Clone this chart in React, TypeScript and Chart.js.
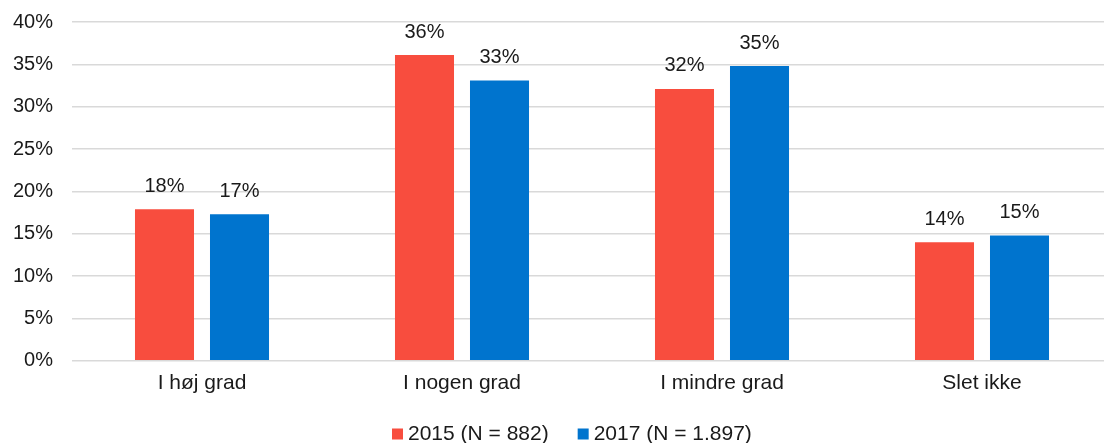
import React, { useEffect, useRef } from "react";
import { Chart, registerables } from "chart.js";

Chart.register(...registerables);

const categories = ["I høj grad", "I nogen grad", "I mindre grad", "Slet ikke"];
const series2015 = [17.9, 36.1, 32.1, 14.0];
const series2017 = [17.3, 33.1, 34.8, 14.8];
const labels2015 = ["18%", "36%", "32%", "14%"];
const labels2017 = ["17%", "33%", "35%", "15%"];
const seriesNames = ["2015 (N = 882)", "2017 (N = 1.897)"];
const yTicks = [0, 5, 10, 15, 20, 25, 30, 35, 40];

const RED = "#F84D3E";
const BLUE = "#0074CE";
const FONT = "'Liberation Sans', Arial, sans-serif";

const valueLabels = {
  id: "valueLabels",
  afterDatasetsDraw(chart: any) {
    const ctx = chart.ctx;
    ctx.save();
    ctx.font = `20px ${FONT}`;
    ctx.fillStyle = "#1a1a1a";
    ctx.textAlign = "center";
    ctx.textBaseline = "middle";
    const texts = [labels2015, labels2017];
    chart.data.datasets.forEach((ds: any, i: number) => {
      const meta = chart.getDatasetMeta(i);
      meta.data.forEach((bar: any, j: number) => {
        ctx.fillText(texts[i][j], bar.x, bar.y - 23);
      });
    });
    ctx.restore();
  },
};

const customLegend = {
  id: "customLegend",
  afterDraw(chart: any) {
    const ctx = chart.ctx;
    ctx.save();
    ctx.font = `21px ${FONT}`;
    ctx.textBaseline = "middle";
    ctx.textAlign = "left";
    const box = 11;
    const gap = 5;
    const itemGap = 29;
    const colors = [RED, BLUE];
    const widths = seriesNames.map((n) => box + gap + ctx.measureText(n).width);
    let x = 392;
    const y = 434;
    seriesNames.forEach((n, i) => {
      ctx.fillStyle = colors[i];
      ctx.fillRect(x, y - box / 2, box, box);
      ctx.fillStyle = "#1a1a1a";
      ctx.fillText(n, x + box + gap, y);
      x += widths[i] + itemGap;
    });
    ctx.restore();
  },
};

export default function App() {
  const ref = useRef<HTMLCanvasElement>(null);
  useEffect(() => {
    if (!ref.current) return;
    const chart = new Chart(ref.current, {
      type: "bar",
      data: {
        labels: categories,
        datasets: [
          {
            label: seriesNames[0],
            data: series2015,
            backgroundColor: RED,
            categoryPercentage: 0.577,
            barPercentage: 0.787,
          },
          {
            label: seriesNames[1],
            data: series2017,
            backgroundColor: BLUE,
            categoryPercentage: 0.577,
            barPercentage: 0.787,
          },
        ],
      },
      options: {
        animation: false,
        responsive: false,
        maintainAspectRatio: false,
        layout: { padding: { left: 12, right: 8, top: 22, bottom: 37 } },
        plugins: {
          legend: { display: false },
          tooltip: { enabled: false },
        },
        scales: {
          x: {
            grid: { display: false, drawTicks: false },
            border: { display: false },
            ticks: {
              padding: 10,
              color: "#1a1a1a",
              font: { size: 21, family: FONT },
            },
          },
          y: {
            min: 0,
            max: 40,
            afterBuildTicks(axis: any) {
              axis.ticks = yTicks.map((v) => ({ value: v }));
            },
            afterFit(axis: any) {
              axis.width = 60;
              axis.paddingTop = 0;
              axis.paddingBottom = 0;
            },
            grid: { color: "#d9d9d9", lineWidth: 1.5, drawTicks: false },
            border: { display: false },
            ticks: {
              padding: 19,
              color: "#1a1a1a",
              font: { size: 20, family: FONT },
              callback: (v: any) => `${v}%`,
            },
          },
        },
      },
      plugins: [valueLabels, customLegend],
    });
    return () => chart.destroy();
  }, []);
  return (
    <div
      style={{
        position: "fixed",
        left: 0,
        top: 0,
        width: 1104,
        height: 443,
        overflow: "hidden",
        background: "#fff",
      }}
    >
      <canvas ref={ref} width={1120} height={443} style={{ display: "block" }} />
    </div>
  );
}
